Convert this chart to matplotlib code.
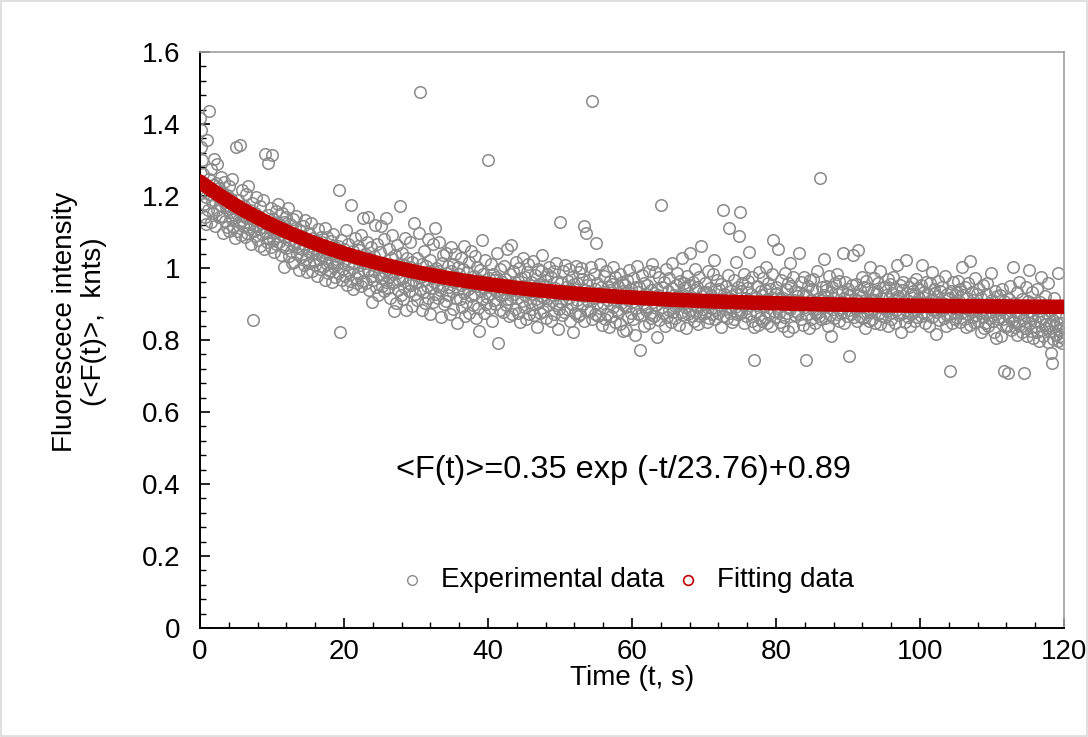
import numpy as np
import matplotlib
matplotlib.use("Agg")
import matplotlib.pyplot as plt
from matplotlib.ticker import MultipleLocator
from matplotlib.patches import Rectangle

plt.rcParams['font.family'] = ['Liberation Sans', 'DejaVu Sans']

# ---------------- data ----------------
sample_step = 0.1  # s, experimental sampling interval

exp_values = [
    1.418, 1.383, 1.337, 1.301, 1.262, 1.215, 1.178, 1.142, 1.122, 1.196,
    1.356, 1.160, 1.248, 1.436, 1.205, 1.129, 1.274, 1.183, 1.152, 1.231,
    1.302, 1.118, 1.236, 1.290, 1.160, 1.197, 1.142, 1.221, 1.175, 1.253,
    1.145, 1.210, 1.098, 1.183, 1.238, 1.131, 1.169, 1.202, 1.114, 1.176,
    1.229, 1.102, 1.156, 1.191, 1.137, 1.247, 1.118, 1.168, 1.083, 1.141,
    1.336, 1.149, 1.104, 1.189, 1.127, 1.343, 1.161, 1.092, 1.216, 1.133,
    1.118, 1.173, 1.085, 1.142, 1.205, 1.097, 1.139, 1.229, 1.108, 1.160,
    1.121, 1.066, 1.182, 1.137, 0.855, 1.104, 1.153, 1.088, 1.196, 1.117,
    1.079, 1.142, 1.108, 1.173, 1.061, 1.126, 1.095, 1.189, 1.113, 1.052,
    1.318, 1.098, 1.132, 1.071, 1.292, 1.147, 1.084, 1.113, 1.166, 1.059,
    1.314, 1.082, 1.137, 1.044, 1.101, 1.159, 1.066, 1.123, 1.090, 1.178,
    1.073, 1.119, 1.035, 1.094, 1.152, 1.061, 1.128, 1.002, 1.085, 1.143,
    1.057, 1.106, 1.166, 1.032, 1.079, 1.121, 1.048, 1.095, 1.013, 1.137,
    1.064, 1.018, 1.112, 1.071, 1.145, 1.039, 1.087, 0.995, 1.056, 1.102,
    1.031, 1.089, 1.052, 1.118, 1.007, 1.068, 1.134, 1.024, 1.075, 0.988,
    1.046, 1.097, 1.013, 1.061, 1.126, 0.992, 1.038, 1.084, 1.020, 1.057,
    1.008, 1.073, 1.042, 0.979, 1.109, 1.025, 1.058, 0.996, 1.087, 1.034,
    1.071, 1.003, 1.045, 1.112, 0.968, 1.029, 1.087, 1.011, 0.986, 1.049,
    0.992, 1.038, 1.076, 0.961, 1.017, 1.094, 1.003, 1.058, 0.975, 1.026,
    1.012, 1.061, 0.985, 1.216, 0.822, 1.031, 1.079, 0.968, 1.042, 0.997,
    1.054, 0.977, 1.023, 1.105, 0.953, 1.011, 1.068, 0.988, 1.036, 0.964,
    1.175, 0.999, 1.047, 0.942, 1.015, 1.083, 0.971, 1.029, 0.958, 1.061,
    0.986, 1.051, 1.008, 0.949, 1.092, 1.021, 0.963, 1.139, 0.995, 1.040,
    1.013, 0.957, 1.072, 0.994, 1.141, 0.938, 1.026, 0.979, 1.058, 0.905,
    0.968, 1.034, 0.991, 1.119, 0.947, 1.006, 1.067, 0.926, 1.012, 0.982,
    1.045, 0.973, 1.118, 0.951, 1.002, 1.081, 0.935, 0.989, 1.140, 0.962,
    0.998, 0.944, 1.052, 0.976, 0.918, 1.027, 0.957, 1.093, 0.983, 0.881,
    0.961, 1.036, 0.903, 0.987, 1.064, 0.939, 1.011, 0.968, 1.172, 0.925,
    1.042, 0.971, 0.915, 1.008, 0.948, 1.083, 0.882, 0.994, 1.029, 0.957,
    0.936, 1.003, 1.071, 0.952, 0.895, 1.018, 0.968, 1.125, 0.927, 0.984,
    0.960, 1.027, 0.911, 0.989, 1.098, 0.943, 1.490, 0.975, 0.882, 1.012,
    0.934, 1.048, 0.967, 0.902, 1.006, 0.951, 1.082, 0.918, 0.993, 0.871,
    1.021, 0.945, 0.988, 1.067, 0.906, 0.962, 1.112, 0.929, 1.001, 0.954,
    0.917, 0.993, 1.072, 0.938, 0.981, 0.864, 1.015, 0.953, 1.035, 0.899,
    0.968, 0.907, 1.043, 0.985, 0.926, 1.006, 0.946, 0.873, 0.991, 1.058,
    0.935, 1.012, 0.887, 0.961, 1.039, 0.918, 0.976, 0.848, 1.004, 0.941,
    0.982, 0.914, 1.027, 0.953, 0.891, 0.997, 0.930, 1.061, 0.866, 0.959,
    0.905, 0.989, 0.943, 1.018, 0.874, 0.967, 0.921, 1.046, 0.952, 0.898,
    0.977, 0.928, 1.034, 0.862, 0.951, 1.003, 0.889, 0.966, 0.826, 0.994,
    0.936, 1.078, 0.915, 0.983, 0.874, 0.947, 1.021, 0.901, 0.962, 0.919,
    1.300, 0.928, 0.971, 0.889, 1.012, 0.944, 0.853, 0.982, 0.911, 0.967,
    0.901, 0.975, 0.936, 1.041, 0.792, 0.958, 0.884, 0.997, 0.923, 0.961,
    0.942, 0.878, 1.006, 0.931, 0.969, 0.897, 1.052, 0.915, 0.948, 0.866,
    0.984, 0.913, 1.064, 0.939, 0.871, 0.993, 0.927, 0.961, 0.885, 1.017,
    0.918, 0.963, 0.876, 1.001, 0.937, 0.849, 0.972, 0.908, 1.028, 0.951,
    0.892, 0.974, 0.925, 0.858, 0.989, 0.933, 1.010, 0.871, 0.952, 0.906,
    0.962, 0.887, 1.019, 0.928, 0.869, 0.981, 0.913, 0.946, 0.835, 0.997,
    0.903, 0.955, 0.874, 0.991, 0.922, 1.037, 0.881, 0.949, 0.916, 0.968,
    0.951, 0.862, 0.984, 0.918, 0.897, 1.003, 0.936, 0.852, 0.975, 0.909,
    0.926, 0.991, 0.873, 0.944, 1.015, 0.898, 0.962, 0.831, 0.931, 0.887,
    1.128, 0.905, 0.957, 0.869, 0.992, 0.928, 0.879, 1.008, 0.913, 0.947,
    0.886, 0.963, 0.917, 0.998, 0.854, 0.939, 0.901, 0.976, 0.823, 0.955,
    0.941, 0.875, 1.006, 0.912, 0.958, 0.866, 0.989, 0.924, 0.872, 0.999,
    0.897, 0.969, 0.921, 0.853, 1.117, 0.938, 1.098, 0.882, 0.952, 0.908,
    0.966, 0.881, 0.935, 1.003, 1.465, 0.859, 0.917, 0.983, 0.871, 0.942,
    1.070, 0.904, 0.957, 0.866, 0.931, 1.012, 0.889, 0.946, 0.842, 0.921,
    0.903, 0.977, 0.858, 0.934, 0.991, 0.872, 0.948, 0.911, 0.836, 0.965,
    0.938, 0.867, 0.956, 0.892, 1.004, 0.925, 0.851, 0.974, 0.909, 0.883,
    0.878, 0.949, 0.917, 0.845, 0.982, 0.903, 0.961, 0.826, 0.935, 0.897,
    0.952, 0.891, 0.827, 0.968, 0.912, 0.864, 0.995, 0.931, 0.876, 0.943,
    0.906, 0.972, 0.858, 0.923, 0.815, 0.947, 0.889, 1.006, 0.934, 0.871,
    0.948, 0.772, 0.915, 0.869, 0.981, 0.904, 0.838, 0.957, 0.892, 0.929,
    0.884, 0.953, 0.917, 0.846, 0.992, 0.873, 0.938, 0.861, 1.012, 0.905,
    0.931, 0.868, 0.989, 0.897, 0.943, 0.809, 0.924, 0.975, 0.856, 0.912,
    1.175, 0.893, 0.947, 0.875, 0.962, 0.918, 0.839, 0.998, 0.907, 0.863,
    0.936, 0.882, 0.971, 0.905, 0.851, 0.944, 1.013, 0.877, 0.926, 0.895,
    0.861, 0.954, 0.898, 0.987, 0.919, 0.842, 0.965, 0.903, 0.878, 1.027,
    0.923, 0.869, 0.957, 0.891, 0.946, 0.833, 0.978, 0.914, 0.872, 0.952,
    0.884, 1.042, 0.918, 0.866, 0.961, 0.901, 0.852, 0.939, 0.996, 0.877,
    0.947, 0.893, 0.845, 0.976, 0.912, 0.868, 1.061, 0.921, 0.887, 0.934,
    0.901, 0.958, 0.876, 0.932, 0.849, 0.991, 0.915, 0.862, 0.944, 0.889,
    0.926, 0.871, 0.983, 0.904, 1.021, 0.858, 0.939, 0.883, 0.967, 0.912,
    0.874, 0.942, 0.897, 0.835, 0.955, 0.913, 0.868, 1.160, 0.929, 0.886,
    0.951, 0.903, 0.862, 0.981, 0.918, 1.110, 0.876, 0.937, 0.893, 0.849,
    0.912, 0.858, 0.967, 0.893, 1.018, 0.927, 0.871, 0.946, 0.884, 1.088,
    1.155, 0.935, 0.874, 0.958, 0.901, 0.846, 0.983, 0.918, 0.867, 0.944,
    0.889, 0.964, 0.912, 1.045, 0.871, 0.927, 0.853, 0.976, 0.903, 0.836,
    0.745, 0.918, 0.879, 0.951, 0.896, 0.842, 0.989, 0.907, 0.862, 0.935,
    0.926, 0.853, 0.972, 0.894, 0.938, 0.861, 1.003, 0.915, 0.847, 0.957,
    0.872, 0.943, 0.905, 0.839, 0.982, 0.918, 1.078, 0.881, 0.929, 0.864,
    0.948, 0.889, 0.931, 1.052, 0.874, 0.913, 0.851, 0.966, 0.902, 0.838,
    0.917, 0.863, 0.987, 0.905, 0.942, 0.876, 0.824, 0.958, 0.893, 1.015,
    0.885, 0.951, 0.896, 0.837, 0.974, 0.912, 0.869, 0.936, 0.881, 0.921,
    0.934, 0.876, 1.041, 0.908, 0.859, 0.962, 0.897, 0.842, 0.928, 0.975,
    0.893, 0.745, 0.926, 0.871, 0.949, 0.904, 0.833, 0.967, 0.911, 0.858,
    0.941, 0.885, 0.969, 0.902, 0.847, 0.936, 0.873, 0.992, 0.915, 0.866,
    0.878, 1.250, 0.912, 0.857, 0.948, 0.891, 1.026, 0.924, 0.862, 0.939,
    0.951, 0.894, 0.838, 0.977, 0.908, 0.869, 0.932, 0.812, 0.946, 0.887,
    0.916, 0.862, 0.958, 0.899, 0.984, 0.873, 0.927, 0.852, 0.964, 0.905,
    0.874, 0.937, 0.889, 1.043, 0.918, 0.846, 0.961, 0.895, 0.868, 0.929,
    0.942, 0.883, 0.755, 0.926, 0.871, 0.953, 0.901, 1.037, 0.864, 0.915,
    0.889, 0.956, 0.912, 0.853, 1.051, 0.924, 0.867, 0.938, 0.892, 0.975,
    0.923, 0.861, 0.947, 0.898, 0.832, 0.965, 0.906, 0.877, 0.943, 0.852,
    0.877, 1.004, 0.915, 0.859, 0.934, 0.886, 0.972, 0.911, 0.848, 0.928,
    0.936, 0.872, 0.958, 0.903, 0.845, 0.992, 0.917, 0.866, 0.947, 0.889,
    0.901, 0.948, 0.863, 0.925, 0.881, 0.969, 0.838, 0.913, 0.956, 0.874,
    0.858, 0.931, 0.894, 0.976, 0.912, 0.847, 0.943, 0.882, 1.009, 0.917,
    0.921, 0.869, 0.953, 0.896, 0.823, 0.938, 0.875, 0.962, 0.906, 0.851,
    0.884, 1.022, 0.911, 0.864, 0.947, 0.893, 0.838, 0.929, 0.871, 0.958,
    0.937, 0.878, 0.924, 0.852, 0.969, 0.906, 0.863, 0.945, 0.889, 0.916,
    0.896, 0.952, 0.867, 1.008, 0.919, 0.874, 0.933, 0.846, 0.961, 0.902,
    0.871, 0.926, 0.895, 0.839, 0.957, 0.912, 0.864, 0.988, 0.883, 0.931,
    0.943, 0.886, 0.817, 0.921, 0.878, 0.964, 0.903, 0.855, 0.936, 0.892,
    0.882, 0.947, 0.904, 0.861, 0.978, 0.896, 0.838, 0.928, 0.869, 0.915,
    0.918, 0.715, 0.873, 0.937, 0.891, 0.846, 0.962, 0.904, 0.858, 0.926,
    0.865, 0.932, 0.887, 0.965, 0.909, 0.851, 0.943, 0.876, 1.002, 0.898,
    0.924, 0.859, 0.946, 0.892, 0.835, 0.918, 0.871, 0.957, 0.883, 0.842,
    1.020, 0.887, 0.934, 0.863, 0.911, 0.849, 0.972, 0.896, 0.869, 0.928,
    0.901, 0.854, 0.941, 0.878, 0.823, 0.916, 0.868, 0.953, 0.887, 0.832,
    0.846, 0.927, 0.875, 0.958, 0.891, 0.839, 0.904, 0.862, 0.985, 0.877,
    0.912, 0.852, 0.894, 0.821, 0.936, 0.871, 0.806, 0.923, 0.858, 0.897,
    0.864, 0.925, 0.811, 0.883, 0.942, 0.857, 0.908, 0.714, 0.874, 0.836,
    0.897, 0.842, 0.709, 0.915, 0.868, 0.951, 0.827, 0.889, 0.854, 1.003,
    0.851, 0.904, 0.836, 0.878, 0.932, 0.815, 0.869, 0.962, 0.842, 0.893,
    0.876, 0.823, 0.915, 0.859, 0.709, 0.887, 0.834, 0.948, 0.866, 0.812,
    0.908, 0.995, 0.847, 0.881, 0.826, 0.934, 0.862, 0.805, 0.891, 0.853,
    0.839, 0.887, 0.942, 0.821, 0.868, 0.796, 0.906, 0.851, 0.974, 0.828,
    0.862, 0.811, 0.897, 0.845, 0.923, 0.832, 0.876, 0.794, 0.958, 0.841,
    0.825, 0.881, 0.763, 0.736, 0.856, 0.803, 0.917, 0.838, 0.872, 0.815,
    0.848, 0.797, 0.985, 0.829, 0.864, 0.812, 0.846, 0.791, 0.833, 0.806,
]

# fitted curve values, one per second (t = 0 .. 120 s)
fit_time = list(range(0, 121))
fit_values = [
    1.2400, 1.2256, 1.2118, 1.1985, 1.1858, 1.1736, 1.1619, 1.1507, 1.1400, 1.1297,
    1.1198, 1.1103, 1.1012, 1.0925, 1.0842, 1.0762, 1.0685, 1.0611, 1.0541, 1.0473,
    1.0408, 1.0346, 1.0287, 1.0230, 1.0175, 1.0122, 1.0072, 1.0024, 0.9977, 0.9933,
    0.9890, 0.9849, 0.9810, 0.9773, 0.9737, 0.9702, 0.9669, 0.9638, 0.9607, 0.9578,
    0.9550, 0.9523, 0.9498, 0.9473, 0.9449, 0.9427, 0.9405, 0.9384, 0.9364, 0.9345,
    0.9327, 0.9309, 0.9292, 0.9276, 0.9261, 0.9246, 0.9232, 0.9218, 0.9205, 0.9192,
    0.9180, 0.9169, 0.9158, 0.9147, 0.9137, 0.9127, 0.9118, 0.9109, 0.9100, 0.9092,
    0.9084, 0.9076, 0.9069, 0.9062, 0.9056, 0.9049, 0.9043, 0.9037, 0.9031, 0.9026,
    0.9021, 0.9016, 0.9011, 0.9006, 0.9002, 0.8998, 0.8994, 0.8990, 0.8986, 0.8983,
    0.8979, 0.8976, 0.8973, 0.8970, 0.8967, 0.8964, 0.8962, 0.8959, 0.8957, 0.8954,
    0.8952, 0.8950, 0.8948, 0.8946, 0.8944, 0.8942, 0.8940, 0.8939, 0.8937, 0.8936,
    0.8934, 0.8933, 0.8931, 0.8930, 0.8929, 0.8928, 0.8927, 0.8925, 0.8924, 0.8923,
    0.8922,
]

x_label = "Time (t, s)"
y_label = "Fluorescece intensity\n(<F(t)>,  knts)"
equation_text = "<F(t)>=0.35 exp (-t/23.76)+0.89"
legend_labels = ["Experimental data", "Fitting data"]

# ---------------- plot ----------------
exp_time = np.arange(len(exp_values)) * sample_step

fig = plt.figure(figsize=(10.88, 7.37), dpi=100)
ax = fig.add_axes([0.1838, 0.1479, 0.7942, 0.7815])

gray = "#8a8a8a"
red = "#c00000"

ax.plot(exp_time, exp_values, linestyle="none", marker="o", markersize=8.3,
        markerfacecolor="none", markeredgecolor=gray, markeredgewidth=1.1,
        zorder=2)
ax.plot(fit_time, fit_values, color=red, linewidth=10.5, solid_capstyle="round",
        zorder=3)

ax.set_xlim(0, 120)
ax.set_ylim(0, 1.6)
ax.xaxis.set_major_locator(MultipleLocator(20))
ax.xaxis.set_minor_locator(MultipleLocator(4))
ax.yaxis.set_minor_locator(MultipleLocator(0.04))
ax.set_yticks([0, 0.2, 0.4, 0.6, 0.8, 1.0, 1.2, 1.4, 1.6])
ax.set_yticklabels(["0", "0.2", "0.4", "0.6", "0.8", "1", "1.2", "1.4", "1.6"])
ax.tick_params(which="both", direction="in", labelsize=20, color="black")
ax.tick_params(which="major", length=7, width=1.2)
ax.tick_params(axis="y", which="major", pad=14)
ax.tick_params(axis="x", which="major", pad=8)
ax.tick_params(which="minor", length=4, width=1.0)

for side in ("left", "bottom"):
    ax.spines[side].set_color("black")
    ax.spines[side].set_linewidth(1.4)
for side in ("right", "top"):
    ax.spines[side].set_color("#a0a0a0")
    ax.spines[side].set_linewidth(1.2)

ax.set_xlabel(x_label, fontsize=20)
ax.xaxis.set_label_coords(0.5, -0.064)
ax.set_ylabel(y_label, fontsize=20, linespacing=1.15)
ax.yaxis.set_label_coords(-0.108, 0.532)

ax.text(58.8, 0.44, equation_text, fontsize=23.4, ha="center", va="center")

# legend drawn inside the axes (positions in axes fraction)
leg_y = 0.0833
ax.plot([0.2454], [leg_y], transform=ax.transAxes, linestyle="none", marker="o",
        markersize=7, markerfacecolor="none", markeredgecolor=gray,
        markeredgewidth=1.0, clip_on=False)
ax.text(0.2789, leg_y, legend_labels[0], transform=ax.transAxes, fontsize=20,
        ha="left", va="center")
ax.plot([0.5648], [leg_y], transform=ax.transAxes, linestyle="none", marker="o",
        markersize=7, markerfacecolor="none", markeredgecolor=red,
        markeredgewidth=1.2, clip_on=False)
ax.text(0.5985, leg_y, legend_labels[1], transform=ax.transAxes, fontsize=20,
        ha="left", va="center")

fig.patches.append(Rectangle((0.001, 0.001), 0.998, 0.997, transform=fig.transFigure,
                             fill=False, edgecolor="#d9d9d9", linewidth=1.2))

fig.savefig("out.png", dpi=100)
